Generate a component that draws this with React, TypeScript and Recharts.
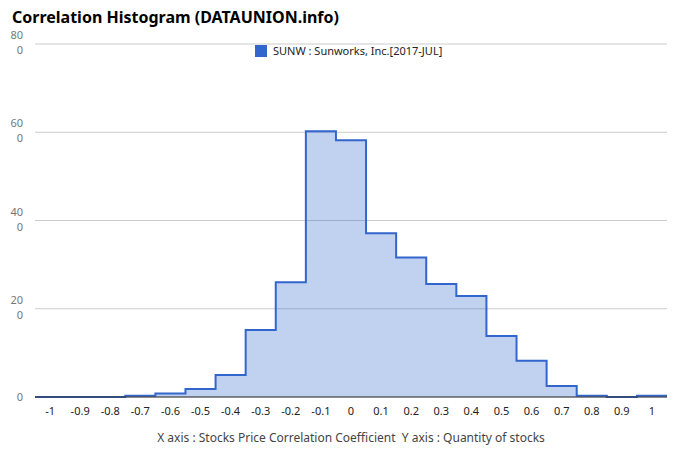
import { AreaChart, Area, XAxis, YAxis, CartesianGrid } from "recharts";

// bin centres of the correlation histogram
const binCenters = [
  -1, -0.9, -0.8, -0.7, -0.6, -0.5, -0.4, -0.3, -0.2, -0.1, 0, 0.1, 0.2, 0.3,
  0.4, 0.5, 0.6, 0.7, 0.8, 0.9, 1,
];
// quantity of stocks per bin
const stockCounts = [
  0, 0, 0, 0.3, 0.8, 1.8, 5, 15.2, 26, 60.2, 58.2, 37.1, 31.6, 25.6, 22.9,
  13.8, 8.2, 2.5, 0.3, 0, 0.3,
];
const xTicks = [
  -1, -0.9, -0.8, -0.7, -0.6, -0.5, -0.4, -0.3, -0.2, -0.1, 0, 0.1, 0.2, 0.3,
  0.4, 0.5, 0.6, 0.7, 0.8, 0.9, 1,
];
const yTicks = [0, 20, 40, 60, 80];
const yTickLines: Record<number, string[]> = {
  0: ["0"],
  20: ["20", "0"],
  40: ["40", "0"],
  60: ["60", "0"],
  80: ["80", "0"],
};
const halfBin = 0.05;

const chartData = [
  ...binCenters.map((c, i) => ({ x: c - halfBin, count: stockCounts[i] })),
  {
    x: binCenters[binCenters.length - 1] + halfBin,
    count: stockCounts[stockCounts.length - 1],
  },
];

const font = "'Noto Sans', sans-serif";

function YTick({ x, y, payload }: any) {
  const lines = yTickLines[payload.value] ?? [String(payload.value)];
  const offsets = lines.length === 1 ? [4] : [-5, 10];
  return (
    <g>
      {lines.map((t, i) => (
        <text
          key={i}
          x={x - 4}
          y={y + offsets[i]}
          textAnchor="end"
          fontSize={11}
          fill="#777"
          fontFamily={font}
        >
          {t}
        </text>
      ))}
    </g>
  );
}

export default function App() {
  return (
    <div
      style={{
        position: "absolute",
        left: 0,
        top: 0,
        width: 680,
        height: 462,
        background: "#fff",
        fontFamily: font,
      }}
    >
      <div
        style={{
          position: "absolute",
          left: 12,
          top: 6,
          fontSize: 16,
          fontWeight: "bold",
          color: "#000",
          whiteSpace: "nowrap",
        }}
      >
        Correlation Histogram (DATAUNION.info)
      </div>
      <div
        style={{
          position: "absolute",
          left: 255,
          top: 43,
          display: "flex",
          alignItems: "center",
          fontSize: 11,
          color: "#222",
          whiteSpace: "nowrap",
          zIndex: 2,
        }}
      >
        <span
          style={{
            width: 12,
            height: 12,
            background: "#3366cc",
            display: "inline-block",
            marginRight: 6,
          }}
        />
        SUNW : Sunworks, Inc.[2017-JUL]
      </div>
      <AreaChart
        width={680}
        height={462}
        data={chartData}
        margin={{ top: 44, right: 13, bottom: 35, left: 0 }}
      >
        <CartesianGrid vertical={false} stroke="#ccc" />
        <XAxis
          dataKey="x"
          type="number"
          domain={[-1.05, 1.05]}
          ticks={xTicks}
          interval={0}
          tickLine={false}
          axisLine={{ stroke: "#333", strokeWidth: 1 }}
          height={30}
          tick={{ fontSize: 11, fill: "#222", fontFamily: font }}
          tickMargin={4}
          tickFormatter={(v: number) => String(v)}
        />
        <YAxis
          width={35}
          domain={[0, 80]}
          ticks={yTicks}
          tickLine={false}
          axisLine={false}
          tick={<YTick />}
        />
        <Area
          type="stepAfter"
          dataKey="count"
          stroke="#3366cc"
          strokeWidth={2}
          fill="#3366cc"
          fillOpacity={0.3}
          isAnimationActive={false}
        />
      </AreaChart>
      <div
        style={{
          position: "absolute",
          left: 0,
          width: 702,
          top: 429,
          textAlign: "center",
          fontSize: 12,
          color: "#444",
          whiteSpace: "pre",
        }}
      >
        {"X axis : Stocks Price Correlation Coefficient  Y axis : Quantity of stocks"}
      </div>
    </div>
  );
}
